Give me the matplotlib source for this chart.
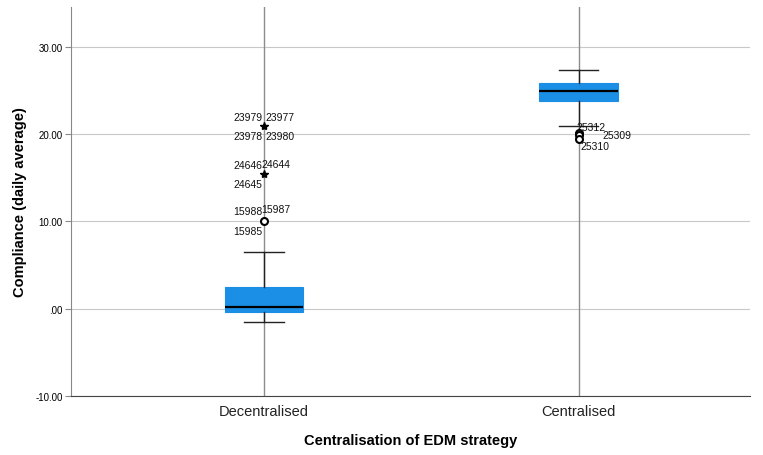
import matplotlib.pyplot as plt

plt.rcParams["font.family"] = ["Liberation Sans", "DejaVu Sans"]

categories = ["Decentralised", "Centralised"]
q1 = [-0.35, 23.85]
median = [0.2, 25.0]
q3 = [2.5, 25.9]
whisker_low = [-1.5, 21.0]
whisker_high = [6.5, 27.4]

# outliers (circles) and extremes (stars), with case ids
outlier_cat = [0, 1, 1, 1]
outlier_val = [10.1, 20.2, 19.9, 19.5]
extreme_cat = [0, 0]
extreme_val = [21.0, 15.5]

label_cat = [0, 0, 0, 0, 0, 0, 0, 0, 0, 0, 1, 1, 1]
label_val = [21.0, 21.0, 21.0, 21.0, 15.5, 15.5, 15.5, 10.1, 10.1, 10.1, 20.2, 19.9, 19.5]
label_txt = ["23979", "23977", "23978", "23980", "24646", "24644", "24645",
             "15988", "15987", "15985", "25312", "25309", "25310"]
# pixel offsets of each label from its point
label_off = [(-16, 9), (16, 9), (-16, -10), (16, -10), (-16, 9), (12, 10), (-16, -10),
             (-16, 10), (12, 12), (-16, -10), (12, 6), (38, 0), (16, -7)]

boxcolor = "#1b8fe6"

fig, ax = plt.subplots(figsize=(7.63, 4.56), dpi=100)
fig.subplots_adjust(left=0.093, right=0.983, top=0.982, bottom=0.13)

stats = []
for i in range(len(categories)):
    stats.append({"q1": q1[i], "med": median[i], "q3": q3[i],
                  "whislo": whisker_low[i], "whishi": whisker_high[i], "fliers": []})

ax.bxp(stats, positions=range(len(categories)), widths=0.25, patch_artist=True,
       showfliers=False,
       boxprops=dict(facecolor=boxcolor, edgecolor=boxcolor, linewidth=0.8),
       medianprops=dict(color="black", linewidth=1.6),
       whiskerprops=dict(color="#222222", linewidth=1.0),
       capprops=dict(color="#222222", linewidth=1.0),
       capwidths=0.125, zorder=3)

ax.plot(outlier_cat, outlier_val, "o", ms=5, mfc="white", mec="black", mew=1.5, zorder=4)
ax.plot(extreme_cat, extreme_val, "*", ms=6, color="black", zorder=4)

for c, v, t, off in zip(label_cat, label_val, label_txt, label_off):
    ax.annotate(t, (c, v), xytext=off, textcoords="offset pixels",
                ha="center", va="center", fontsize=7.5, color="#111111", zorder=5)

ax.set_xlim(-0.613, 1.545)
ax.set_ylim(-10, 34.6)
ax.set_yticks([-10, 0, 10, 20, 30])
ax.set_yticklabels(["-10.00", ".00", "10.00", "20.00", "30.00"], fontsize=7)
ax.set_xticks(range(len(categories)))
ax.set_xticklabels(categories, fontsize=10.5, color="#222222")
ax.tick_params(axis="x", length=0, pad=6)
ax.tick_params(axis="y", length=4, color="#888888", pad=2)

ax.yaxis.grid(True, color="#c8c8c8", linewidth=0.8, zorder=0)
for x in range(len(categories)):
    ax.axvline(x, color="#8c8c8c", linewidth=1.0, zorder=1)
ax.set_axisbelow(True)

for s in ["top", "right"]:
    ax.spines[s].set_visible(False)
ax.spines["left"].set_color("#888888")
ax.spines["bottom"].set_color("#444444")

ax.set_ylabel("Compliance (daily average)", fontsize=10.5, fontweight="bold", labelpad=6)
ax.set_xlabel("Centralisation of EDM strategy", fontsize=10.5, fontweight="bold", labelpad=11)

plt.savefig("out.png")
